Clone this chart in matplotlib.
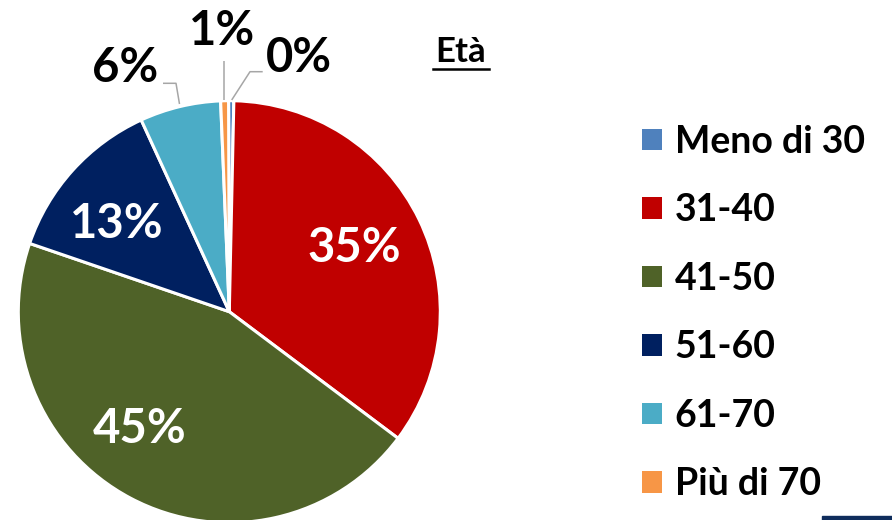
import matplotlib
matplotlib.use("Agg")
import matplotlib.pyplot as plt
from matplotlib.patches import Rectangle

# age groups, clockwise from the top
categories = ["Meno di 30", "31-40", "41-50", "51-60", "61-70", "Più di 70"]
# wedge sizes (%)
shares = [0.4, 34.9, 45.0, 12.9, 6.2, 0.6]
# percent labels as printed on the chart
pct_labels = ["0%", "35%", "45%", "13%", "6%", "1%"]
colors = ["#4F81BD", "#C00000", "#4F6228", "#002060", "#4BACC6", "#F79646"]
title = "Età"

# layout (pixel coords, y from top)
cx, cy, R = 229.3, 311.7, 211
label_xy = [(298.5, 72), (354.5, 262), (140, 443), (117, 238), (124.7, 81.7), (222.5, 45)]
label_col = ["black", "white", "white", "white", "black", "black"]
leaders = {
    0: ([231.7, 250, 262.7], [100, 71.7, 71.7]),
    4: ([179.5, 176, 163], [104, 83.3, 83.3]),
    5: ([224, 224], [100, 61]),
}

FONT = "Lato"

fig = plt.figure(figsize=(8.92, 5.2), dpi=100)
ax = fig.add_axes([0, 0, 1, 1])

wedges, _ = ax.pie(shares, colors=colors, startangle=-90.2, counterclock=True,
                   radius=R, center=(cx, cy),
                   wedgeprops=dict(edgecolor="white", linewidth=2.2))
ax.set_xlim(0, 892)
ax.set_ylim(520, 0)
ax.set_aspect("equal")
ax.axis("off")

for i, txt in enumerate(pct_labels):
    x, y = label_xy[i]
    ax.text(x, y, txt, ha="center", va="baseline", color=label_col[i],
            fontsize=34, fontweight="bold", family=FONT)

for i, (xs, ys) in leaders.items():
    ax.plot(xs, ys, color="#A6A6A6", lw=1.1, solid_capstyle="butt")

# title with underline
ax.text(461, 62, title, ha="center", va="baseline", fontsize=25,
        fontweight="bold", family=FONT)
ax.plot([433, 489], [69, 69], color="black", lw=1.8)

leg = ax.legend(wedges, categories, loc="upper left",
                bbox_to_anchor=(641.7, 125), bbox_transform=ax.transData,
                frameon=False, borderpad=0, borderaxespad=0,
                handlelength=0.535, handleheight=0.5, handletextpad=0.34,
                labelspacing=0.918,
                prop=dict(family=FONT, weight="bold", size=27))
for h in leg.legend_handles:
    h.set_edgecolor("none")

ax.add_patch(Rectangle((822, 516), 70, 4, color="#0F2D5C"))

fig.savefig("out.png", dpi=100)
